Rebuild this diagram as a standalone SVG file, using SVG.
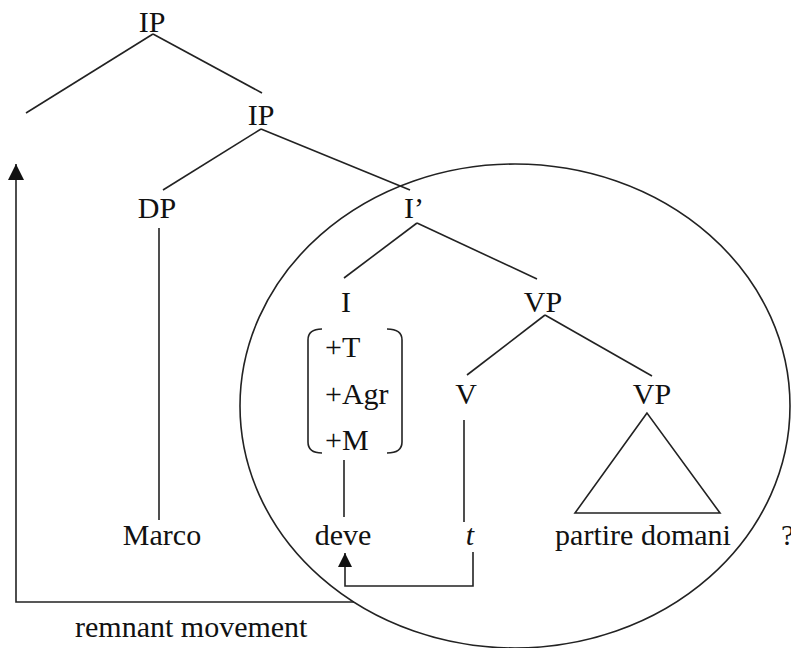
<svg xmlns="http://www.w3.org/2000/svg" width="791" height="648" viewBox="0 0 791 648">
<style>
text{font-family:"Tinos","Liberation Serif","Noto Serif","DejaVu Serif","Times New Roman",Times,serif;font-size:30px;fill:#111}
.m{text-anchor:middle}
.ln{stroke:#222;stroke-width:1.6;fill:none}
</style>
<defs>
<marker id="ah" viewBox="0 0 10 10" refX="10" refY="5" markerWidth="14" markerHeight="14" markerUnits="userSpaceOnUse" orient="auto">
<path d="M0,0 L10,5 L0,10 z" fill="#111"/>
</marker>
<marker id="ahb" viewBox="0 0 10 10" refX="10" refY="5" markerWidth="16" markerHeight="16" markerUnits="userSpaceOnUse" orient="auto">
<path d="M0,0 L10,5 L0,10 z" fill="#111"/>
</marker>
</defs>
<rect width="791" height="648" fill="#fff"/>
<g id="circle"><ellipse class="ln" cx="515" cy="406" rx="275" ry="242"/></g>
<g id="connectors">
<line class="ln" x1="153" y1="34" x2="26" y2="113"/>
<line class="ln" x1="153" y1="34" x2="262" y2="93"/>
<line class="ln" x1="261" y1="129" x2="163" y2="190"/>
<line class="ln" x1="261" y1="129" x2="410" y2="190"/>
<line class="ln" x1="159" y1="228" x2="159" y2="520"/>
<line class="ln" x1="417" y1="223" x2="344" y2="278"/>
<line class="ln" x1="417" y1="223" x2="537" y2="279"/>
<line class="ln" x1="545" y1="315" x2="467" y2="375"/>
<line class="ln" x1="545" y1="315" x2="652" y2="376"/>
<line class="ln" x1="464" y1="420" x2="464" y2="522"/>
<line class="ln" x1="344" y1="460" x2="344" y2="517"/>
<polygon class="ln" points="647,413 575,513 720,513"/>
<polyline class="ln" points="473,552 473,586 345,586 345,553" marker-end="url(#ah)"/>
<polyline class="ln" points="354,602 16,602 16,164" marker-end="url(#ahb)"/>
</g>
<g id="n-IP1"><text class="m" x="152" y="32">IP</text></g>
<g id="n-IP2"><text class="m" x="261" y="125">IP</text></g>
<g id="n-DP"><text class="m" x="157" y="218">DP</text></g>
<g id="n-Ibar"><text class="m" x="414" y="218">I’</text></g>
<g id="n-I"><text class="m" x="346" y="312">I</text></g>
<g id="n-VP1"><text class="m" x="543" y="312">VP</text></g>
<g id="n-V"><text class="m" x="466" y="404">V</text></g>
<g id="n-VP2"><text class="m" x="652" y="404">VP</text></g>
<g id="features">
<path class="ln" d="M322,329 Q308,329 308,340 L308,442 Q308,453 322,453"/>
<path class="ln" d="M387,329 Q402,329 402,340 L402,442 Q402,453 387,453"/>
<text x="325" y="357">+T</text>
<text x="325" y="404">+Agr</text>
<text x="325" y="450">+M</text>
</g>
<g id="n-Marco"><text class="m" x="162" y="545">Marco</text></g>
<g id="n-deve"><text class="m" x="343" y="545">deve</text></g>
<g id="n-t"><text class="m" x="470" y="545" font-style="italic">t</text></g>
<g id="n-partire"><text class="m" x="643" y="545">partire domani</text></g>
<g id="n-q"><text x="781" y="545">?</text></g>
<g id="label"><text x="75" y="637">remnant movement</text></g>
</svg>
